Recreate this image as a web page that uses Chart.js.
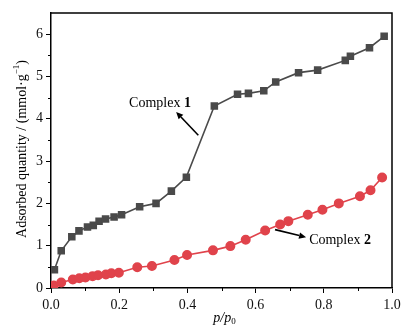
<!DOCTYPE html>
<html><head><meta charset="utf-8">
<script src="https://cdn.jsdelivr.net/npm/chart.js@4/dist/chart.umd.min.js"></script>
<style>html,body{margin:0;padding:0;background:#fff}#wrap{width:413px;height:332px;position:relative}</style>
</head><body><div id="wrap"><canvas id="c"></canvas></div>
<script>
const xs1 = [0.010,0.030,0.061,0.082,0.107,0.124,0.141,0.160,0.185,0.207,0.260,0.308,0.353,0.397,0.479,0.547,0.579,0.624,0.659,0.726,0.782,0.863,0.878,0.934,0.977];
const ys1 = [0.43,0.88,1.21,1.35,1.44,1.48,1.58,1.63,1.68,1.73,1.92,2.00,2.29,2.62,4.30,4.58,4.60,4.66,4.87,5.09,5.15,5.38,5.48,5.68,5.95];
const xs2 = [0.008,0.030,0.064,0.083,0.101,0.122,0.138,0.161,0.177,0.199,0.253,0.296,0.362,0.399,0.475,0.526,0.571,0.628,0.672,0.696,0.753,0.796,0.844,0.906,0.937,0.971];
const ys2 = [0.06,0.13,0.20,0.23,0.25,0.28,0.30,0.32,0.35,0.36,0.49,0.52,0.66,0.78,0.89,0.99,1.14,1.36,1.50,1.58,1.73,1.85,2.00,2.17,2.31,2.61];
const xTicks = [0.0,0.2,0.4,0.6,0.8,1.0];
const yTicks = [0,1,2,3,4,5,6];
const label1 = ["Complex ", "1"];
const label2 = ["Complex ", "2"];
const serif = '"Liberation Serif", "Times New Roman", serif';

function pts(xs, ys){ return xs.map((x,i)=>({x:x, y:ys[i]})); }

function arrow(ctx, x1,y1,x2,y2){
  ctx.save();
  ctx.strokeStyle='#000'; ctx.fillStyle='#000'; ctx.lineWidth=1.6;
  const a=Math.atan2(y2-y1,x2-x1), L=7, W=3.2;
  const bx=x2-L*Math.cos(a), by=y2-L*Math.sin(a);
  ctx.beginPath(); ctx.moveTo(x1,y1); ctx.lineTo(bx,by); ctx.stroke();
  ctx.beginPath(); ctx.moveTo(x2,y2);
  ctx.lineTo(bx+W*Math.sin(a), by-W*Math.cos(a));
  ctx.lineTo(bx-W*Math.sin(a), by+W*Math.cos(a));
  ctx.closePath(); ctx.fill();
  ctx.restore();
}
function label(ctx, parts, x, y){
  ctx.save(); ctx.fillStyle='#000'; ctx.textBaseline='middle'; ctx.textAlign='left';
  ctx.font='14px '+serif; ctx.fillText(parts[0], x, y);
  const w=ctx.measureText(parts[0]).width;
  ctx.font='bold 14px '+serif; ctx.fillText(parts[1], x+w, y);
  ctx.restore();
}

const deco = {
  id:'deco',
  afterDraw(chart){
    const ctx=chart.ctx, ca=chart.chartArea, xs=chart.scales.x, ys=chart.scales.y;
    ctx.save();
    ctx.strokeStyle='#000'; ctx.lineWidth=1.5;
    ctx.beginPath(); ctx.moveTo(ca.left, ca.top); ctx.lineTo(ca.right, ca.top); ctx.lineTo(ca.right, ca.bottom); ctx.stroke();
    ctx.lineWidth=1;
    for(let v=0.1; v<1; v+=0.2){ const p=Math.round(xs.getPixelForValue(v))+0.5; ctx.beginPath(); ctx.moveTo(p, ca.bottom); ctx.lineTo(p, ca.bottom+3); ctx.stroke(); }
    for(let v=0.5; v<6.5; v+=1){ const p=Math.round(ys.getPixelForValue(v))+0.5; ctx.beginPath(); ctx.moveTo(ca.left, p); ctx.lineTo(ca.left-3, p); ctx.stroke(); }
    ctx.save();
    ctx.translate(22, 149);
    ctx.rotate(-Math.PI/2);
    ctx.fillStyle='#000'; ctx.textBaseline='middle';
    const t1='Adsorbed quantity / (mmol·g', sup='−1', t2=')';
    ctx.font='14px '+serif; const w1=ctx.measureText(t1).width, w3=ctx.measureText(t2).width;
    ctx.font='9px '+serif; const w2=ctx.measureText(sup).width;
    const tot=w1+w2+w3; let x0=-tot/2;
    ctx.textAlign='left';
    ctx.font='14px '+serif; ctx.fillText(t1, x0, 0);
    ctx.font='9px '+serif; ctx.fillText(sup, x0+w1, -5);
    ctx.font='14px '+serif; ctx.fillText(t2, x0+w1+w2, 0);
    ctx.restore();
    ctx.fillStyle='#000'; ctx.textBaseline='middle'; ctx.textAlign='left';
    ctx.font='italic 14px '+serif;
    const a='p/p'; const wa=ctx.measureText(a).width;
    ctx.font='9px '+serif; const wb=ctx.measureText('0').width;
    let xx=(ca.left+ca.right)/2 - (wa+wb)/2 + 3;
    ctx.font='italic 14px '+serif; ctx.fillText(a, xx, 318);
    ctx.font='9px '+serif; ctx.fillText('0', xx+wa, 322);
    arrow(ctx, xs.getPixelForValue(0.432), ys.getPixelForValue(3.61), xs.getPixelForValue(0.367), ys.getPixelForValue(4.16));
    label(ctx, label1, xs.getPixelForValue(0.229), ys.getPixelForValue(4.36));
    arrow(ctx, xs.getPixelForValue(0.657), ys.getPixelForValue(1.38), xs.getPixelForValue(0.748), ys.getPixelForValue(1.20));
    label(ctx, label2, xs.getPixelForValue(0.757), ys.getPixelForValue(1.13));
    ctx.restore();
  }
};

new Chart(document.getElementById('c'), {
  type:'line',
  data:{ datasets:[
    { label:'Complex 1', data:pts(xs1,ys1), borderColor:'#4a4a4a', backgroundColor:'#4a4a4a', borderWidth:1.6, pointStyle:'rect', pointRadius:4.2, pointHoverRadius:4.2, tension:0 },
    { label:'Complex 2', data:pts(xs2,ys2), borderColor:'#e0434b', backgroundColor:'#e0434b', borderWidth:1.6, pointStyle:'circle', pointRadius:4.2, pointHoverRadius:4.2, tension:0 }
  ]},
  options:{
    responsive:true, maintainAspectRatio:false, animation:false,
    layout:{ padding:{ top:13, right:21, left:0, bottom:0 } },
    plugins:{ legend:{display:false}, tooltip:{enabled:false} },
    scales:{
      x:{ type:'linear', min:0, max:1,
        afterBuildTicks(s){ s.ticks = xTicks.map(v=>({value:v})); },
        afterFit(s){ s.height=44; },
        grid:{ drawOnChartArea:false, drawTicks:true, tickLength:5, color:'#000', tickWidth:1 },
        border:{ color:'#000', width:1.5 },
        ticks:{ color:'#111', font:{ family:serif, size:14 }, padding:4, maxRotation:0, callback:v=>v.toFixed(1) } },
      y:{ type:'linear', min:0, max:6.5,
        afterBuildTicks(s){ s.ticks = yTicks.map(v=>({value:v})); },
        afterFit(s){ s.width=51; },
        grid:{ drawOnChartArea:false, drawTicks:true, tickLength:5, color:'#000', tickWidth:1 },
        border:{ color:'#000', width:1.5 },
        ticks:{ color:'#111', font:{ family:serif, size:14 }, padding:3, callback:v=>String(v) } }
    }
  },
  plugins:[deco]
});
</script></body></html>
